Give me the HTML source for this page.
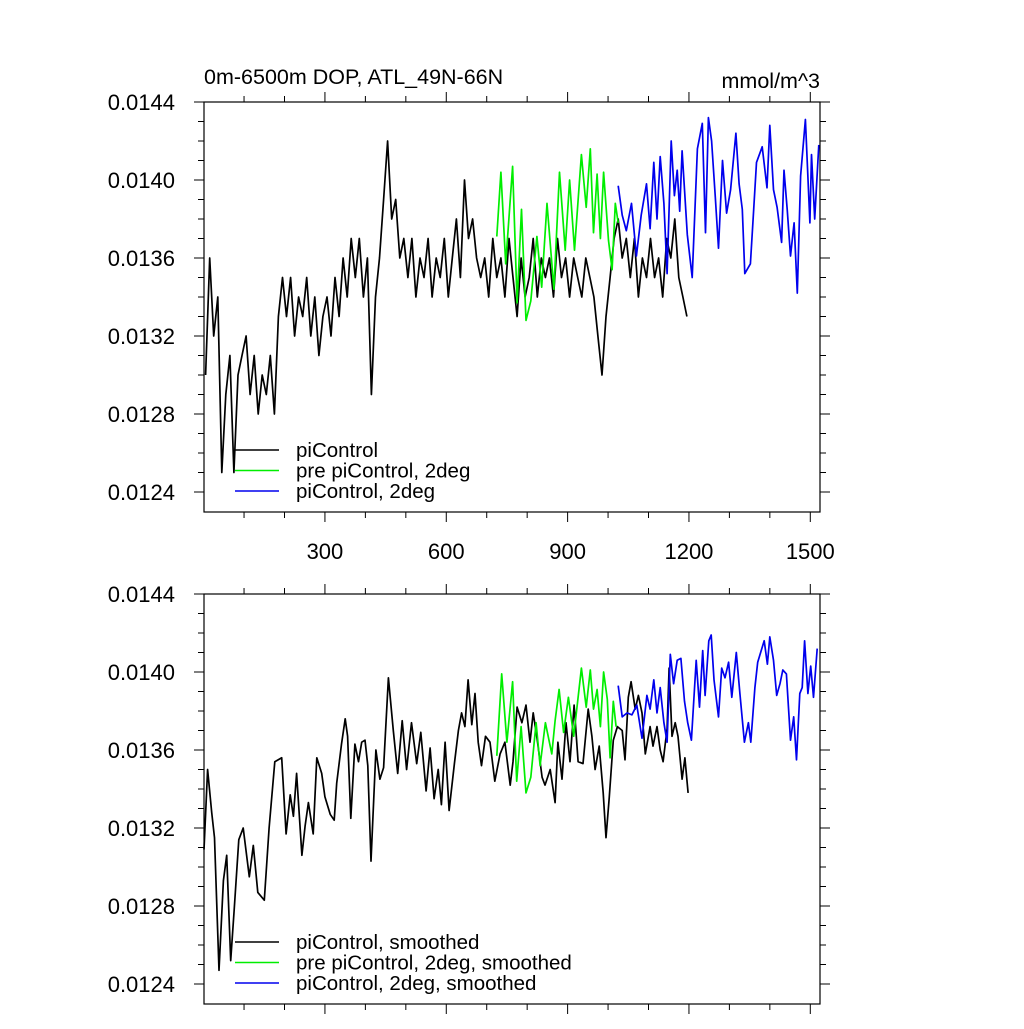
<!DOCTYPE html>
<html><head><meta charset="utf-8"><style>
html,body{margin:0;padding:0;background:#fff;}
svg text{font-family:"Liberation Sans",sans-serif;fill:#000;}
</style></head><body>
<svg id="chart" width="1024" height="1024" xmlns="http://www.w3.org/2000/svg"></svg>
<script>
// ---- data ----
const yTicks = [0.0124, 0.0128, 0.0132, 0.0136, 0.0140, 0.0144];
const yTickLabels = ["0.0124", "0.0128", "0.0132", "0.0136", "0.0140", "0.0144"];
const xTicks = [300, 600, 900, 1200, 1500];
const xTickLabels = ["300", "600", "900", "1200", "1500"];

const blackRawYears = [5,15,25,35,45,55,65,75,85,95,105,115,125,135,145,155,165,175,185,195,205,215,225,235,245,255,265,275,285,295,305,315,325,335,345,355,365,375,385,395,405,415,425,435,445,455,465,475,485,495,505,515,525,535,545,555,565,575,585,595,605,615,625,635,645,655,665,675,685,695,705,715,725,735,745,755,765,775,785,795,805,815,825,835,845,855,865,875,885,895,905,915,925,935,945,955,965,975,985,995,1005,1015,1025,1035,1045,1055,1065,1075,1085,1095,1105,1115,1125,1135,1145,1155,1165,1175,1185,1195];
const blackRaw = [0.0130,0.0136,0.0132,0.0134,0.0125,0.0129,0.0131,0.0125,0.0130,0.0131,0.0132,0.0129,0.0131,0.0128,0.0130,0.0129,0.0131,0.0128,0.0133,0.0135,0.0133,0.0135,0.0132,0.0134,0.0133,0.0135,0.0132,0.0134,0.0131,0.0133,0.0134,0.0132,0.0135,0.0133,0.0136,0.0134,0.0137,0.0135,0.0137,0.0134,0.0136,0.0129,0.0134,0.0136,0.0139,0.0142,0.0138,0.0139,0.0136,0.0137,0.0135,0.0137,0.0134,0.0136,0.0135,0.0137,0.0134,0.0136,0.0135,0.0137,0.0134,0.0136,0.0138,0.0135,0.0140,0.0137,0.0138,0.0136,0.0135,0.0136,0.0134,0.0137,0.0135,0.0136,0.0134,0.0137,0.0135,0.0133,0.0136,0.0134,0.0135,0.0137,0.0134,0.0136,0.0135,0.0136,0.0134,0.0137,0.0135,0.0136,0.0134,0.0136,0.0135,0.0134,0.0136,0.0135,0.0134,0.0132,0.0130,0.0133,0.0135,0.0137,0.0138,0.0136,0.0137,0.0135,0.0137,0.0134,0.0136,0.0135,0.0137,0.0135,0.0136,0.0134,0.0137,0.0136,0.0138,0.0135,0.0134,0.0133];

const greenRawYears = [725,735,747,764,775,786,797,809,824,836,849,866,880,894,905,917,934,946,956,964,973,981,989,1001,1010,1018,1025];
const greenRaw = [0.01371,0.01404,0.01357,0.01407,0.01337,0.01385,0.01328,0.01338,0.01371,0.01345,0.01388,0.01344,0.01404,0.01364,0.01400,0.01364,0.01413,0.01386,0.01416,0.01373,0.01403,0.01370,0.01404,0.01369,0.01354,0.01388,0.01378];

const blueRawYears = [1025,1035,1045,1058,1070,1082,1095,1104,1113,1121,1129,1138,1146,1156,1164,1171,1177,1183,1196,1208,1221,1233,1241,1248,1256,1265,1273,1283,1293,1303,1316,1324,1332,1338,1352,1360,1367,1381,1393,1400,1409,1418,1429,1435,1443,1451,1460,1468,1476,1488,1499,1503,1511,1521];
const blueRaw = [0.01397,0.01382,0.01374,0.01388,0.01361,0.01382,0.01398,0.01375,0.01409,0.01380,0.01412,0.01388,0.01352,0.01420,0.01392,0.01405,0.01384,0.01415,0.01372,0.01350,0.01416,0.01429,0.01373,0.01432,0.01420,0.01392,0.01365,0.01410,0.01383,0.01395,0.01424,0.01398,0.01385,0.01352,0.01357,0.01385,0.01409,0.01417,0.01396,0.01428,0.01395,0.01386,0.01368,0.01405,0.01385,0.01361,0.01378,0.01342,0.01402,0.01431,0.01378,0.01413,0.01380,0.01418];

const blackSmYears = [1,10,20,27,38,49,57,67,76,87,98,113,123,134,150,162,176,193,204,214,222,230,243,251,259,271,280,292,300,313,323,329,341,350,356,364,374,383,391,399,406,414,426,436,445,457,469,480,491,502,514,527,537,550,560,570,580,588,597,607,620,630,638,646,654,663,671,679,687,697,708,720,733,745,758,765,775,787,797,807,815,825,837,844,857,869,876,886,896,906,916,926,938,951,960,968,978,988,995,1003,1013,1023,1035,1042,1050,1057,1067,1075,1084,1092,1104,1111,1121,1129,1136,1146,1151,1158,1166,1173,1183,1190,1198];
const blackSm = [0.01309,0.01350,0.01328,0.01315,0.01247,0.01293,0.01306,0.01252,0.01279,0.01314,0.01320,0.01295,0.01311,0.01287,0.01283,0.01320,0.01354,0.01356,0.01317,0.01337,0.01326,0.01348,0.01306,0.01321,0.01333,0.01317,0.01356,0.01348,0.01336,0.01327,0.01324,0.01343,0.01363,0.01376,0.01367,0.01325,0.01363,0.01354,0.01364,0.01365,0.01352,0.01303,0.01360,0.01345,0.01351,0.01397,0.01370,0.01348,0.01375,0.01350,0.01374,0.01353,0.01369,0.01339,0.01361,0.01335,0.01350,0.01332,0.01364,0.01329,0.01353,0.01370,0.01379,0.01372,0.01396,0.01373,0.01389,0.01364,0.01352,0.01367,0.01364,0.01344,0.01358,0.01364,0.01342,0.01354,0.01382,0.01374,0.01383,0.01364,0.01379,0.01365,0.01346,0.01342,0.01350,0.01333,0.01364,0.01345,0.01374,0.01354,0.01383,0.01354,0.01353,0.01381,0.01367,0.01350,0.01362,0.01338,0.01315,0.01336,0.01365,0.01372,0.01370,0.01355,0.01387,0.01395,0.01381,0.01388,0.01379,0.01358,0.01372,0.01362,0.01372,0.01360,0.01354,0.01371,0.01402,0.01367,0.01374,0.01367,0.01345,0.01356,0.01338];

const greenSmYears = [725,737,750,764,774,785,797,809,822,832,845,861,869,879,890,902,915,934,946,956,964,973,981,989,998,1005,1013,1020];
const greenSm = [0.01357,0.01399,0.01364,0.01395,0.01344,0.01372,0.01338,0.01346,0.01374,0.01352,0.01374,0.01358,0.01375,0.01391,0.01369,0.01387,0.01367,0.01402,0.01382,0.01401,0.01381,0.01391,0.01372,0.01400,0.01386,0.01356,0.01385,0.01372];

const blueSmYears = [1025,1035,1047,1059,1071,1084,1096,1104,1113,1121,1129,1138,1146,1154,1162,1171,1180,1189,1197,1206,1218,1226,1234,1240,1249,1255,1262,1273,1281,1289,1298,1306,1317,1326,1337,1347,1353,1363,1370,1380,1386,1394,1400,1409,1417,1425,1432,1441,1451,1459,1466,1474,1480,1486,1494,1501,1508,1517];
const blueSm = [0.01393,0.01377,0.01379,0.01378,0.01383,0.01366,0.01388,0.01381,0.01396,0.01379,0.01392,0.01374,0.01364,0.01409,0.01394,0.01406,0.01407,0.01385,0.01374,0.01365,0.01406,0.01382,0.01411,0.01388,0.01416,0.01419,0.01396,0.01377,0.01402,0.01397,0.01405,0.01387,0.01410,0.01389,0.01364,0.01374,0.01364,0.01392,0.01405,0.01412,0.01416,0.01404,0.01418,0.01406,0.01388,0.01394,0.01401,0.01399,0.01365,0.01377,0.01355,0.01389,0.01392,0.01416,0.01389,0.01403,0.01387,0.01412];

// ---- drawing ----
const NS = "http://www.w3.org/2000/svg";
const svg = document.getElementById("chart");
function mk(tag, attrs, parent) {
  const e = document.createElementNS(NS, tag);
  for (const k in attrs) e.setAttribute(k, attrs[k]);
  (parent || svg).appendChild(e);
  return e;
}
const X0 = 204, X1 = 820, YR0 = 1, YR1 = 1524;
function xs(yr) { return X0 + (yr - YR0) * (X1 - X0) / (YR1 - YR0); }

function panel(name, top, series, legendLabels, showXLabels) {
  const g = mk("g", {});
  
  
  const bot = top + 410;
  const ys = v => top + (0.0144 - v) * (390 / 0.0020);
  for (let yr = 100; yr <= 1500; yr += 100) {
    const x = xs(yr), major = yr % 300 === 0, L = major ? 10 : 6;
    const t1 = mk("line", {x1:x, y1:top, x2:x, y2:top - L, stroke:"#000", "stroke-width":1}, g);
    
    
    const t2 = mk("line", {x1:x, y1:bot, x2:x, y2:bot + L, stroke:"#000", "stroke-width":1}, g);
    
    
  }
  for (let i = 0; i <= 20; i++) {
    const v = 0.0124 + i * 0.0001, y = ys(v);
    if (y < top - 0.5 || y > bot + 0.5) continue;
    const major = i % 4 === 0, L = major ? 10 : 6;
    const a = mk("line", {x1:X0, y1:y, x2:X0 - L, y2:y, stroke:"#000", "stroke-width":1}, g);
    
    
    const b = mk("line", {x1:X1, y1:y, x2:X1 + L, y2:y, stroke:"#000", "stroke-width":1}, g);
    
    
  }
  yTicks.forEach((v, i) => {
    const t = mk("text", {x:175, y:ys(v) + 8, "text-anchor":"end", "font-size":22}, g);
    t.textContent = yTickLabels[i];
    
    
  });
  if (showXLabels) {
    xTicks.forEach((v, i) => {
      const t = mk("text", {x:xs(v), y:bot + 47, "text-anchor":"middle", "font-size":22}, g);
      t.textContent = xTickLabels[i];
      
      
    });
  }
  const colors = ["#000", "#00ee00", "#0000ee"];
  series.forEach((s, si) => {
    const d = s.years.map((yr, i) => (i ? "L" : "M") + xs(yr).toFixed(1) + " " + ys(s.vals[i]).toFixed(1)).join(" ");
    const p = mk("path", {d:d, fill:"none", stroke:colors[si], "stroke-width":1.7, "stroke-linejoin":"round"}, g);
    
    
  });
  const frame = mk("rect", {x:X0, y:top, width:X1 - X0, height:bot - top, fill:"none", stroke:"#000", "stroke-width":1.2}, g);
  
  
  legendLabels.forEach((lab, i) => {
    const ly = top + 348 + i * 20.5;
    const l = mk("line", {x1:235, y1:ly, x2:279, y2:ly, stroke:colors[i], "stroke-width":1.6}, g);
    
    
    const t = mk("text", {x:296, y:ly + 7, "font-size":20.5}, g);
    t.textContent = lab;
    
    
  });
}

panel("top-panel", 102, [
  {name:"picontrol-line", years:blackRawYears, vals:blackRaw},
  {name:"pre-picontrol-2deg-line", years:greenRawYears, vals:greenRaw},
  {name:"picontrol-2deg-line", years:blueRawYears, vals:blueRaw}
], ["piControl", "pre piControl, 2deg", "piControl, 2deg"], true);

panel("bottom-panel", 594, [
  {name:"picontrol-smoothed-line", years:blackSmYears, vals:blackSm},
  {name:"pre-picontrol-2deg-smoothed-line", years:greenSmYears, vals:greenSm},
  {name:"picontrol-2deg-smoothed-line", years:blueSmYears, vals:blueSm}
], ["piControl, smoothed", "pre piControl, 2deg, smoothed", "piControl, 2deg, smoothed"], false);

const title = mk("text", {x:204, y:84, "font-size":21.5});
title.textContent = "0m-6500m DOP, ATL_49N-66N";


const units = mk("text", {x:820, y:88, "font-size":21.5, "text-anchor":"end"});
units.textContent = "mmol/m^3";


</script>
</body></html>
